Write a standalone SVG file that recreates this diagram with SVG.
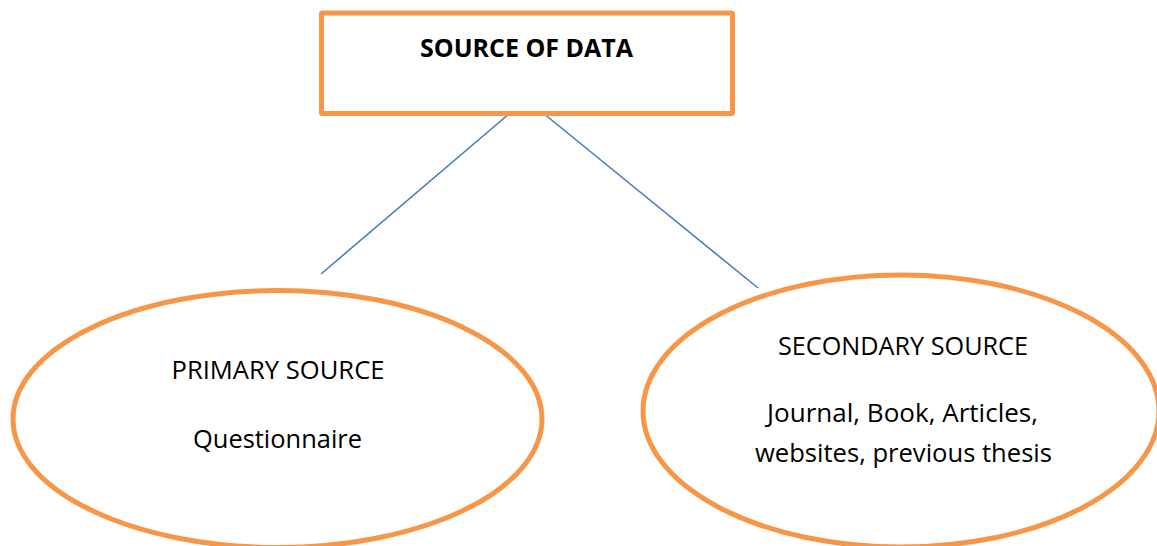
<svg xmlns="http://www.w3.org/2000/svg" width="1157" height="546" viewBox="0 0 1157 546">
<style>
.box{fill:#fff;stroke:#F79646;stroke-width:5}
.conn{stroke:#4A7EBB;stroke-width:1.6;fill:none}
.t{font-family:"Open Sans","Noto Sans",sans-serif;font-size:25px;fill:#000;text-anchor:middle}
.b{font-weight:bold}
</style>
<rect width="1157" height="546" fill="#fff"/>
<g id="connectors">
<line class="conn" x1="510" y1="113" x2="321" y2="274"/>
<line class="conn" x1="543" y1="113" x2="758" y2="288"/>
</g>
<g id="source-of-data">
<rect class="box" x="321.5" y="13" width="411" height="100.5" rx="1"/>
<text class="t b" x="526.5" y="57" textLength="213" lengthAdjust="spacingAndGlyphs">SOURCE OF DATA</text>
</g>
<g id="primary-source">
<ellipse class="box" cx="277.5" cy="419" rx="264.5" ry="128.5"/>
<text class="t" x="278" y="379" textLength="213" lengthAdjust="spacingAndGlyphs">PRIMARY SOURCE</text>
<text class="t" x="277.5" y="448" textLength="169" lengthAdjust="spacingAndGlyphs">Questionnaire</text>
</g>
<g id="secondary-source">
<ellipse class="box" cx="901" cy="411" rx="258" ry="136"/>
<text class="t" x="903" y="355" textLength="250" lengthAdjust="spacingAndGlyphs">SECONDARY SOURCE</text>
<text class="t" x="902.5" y="422" textLength="271" lengthAdjust="spacingAndGlyphs">Journal, Book, Articles,</text>
<text class="t" x="903.5" y="462" textLength="297" lengthAdjust="spacingAndGlyphs">websites, previous thesis</text>
</g>
</svg>
